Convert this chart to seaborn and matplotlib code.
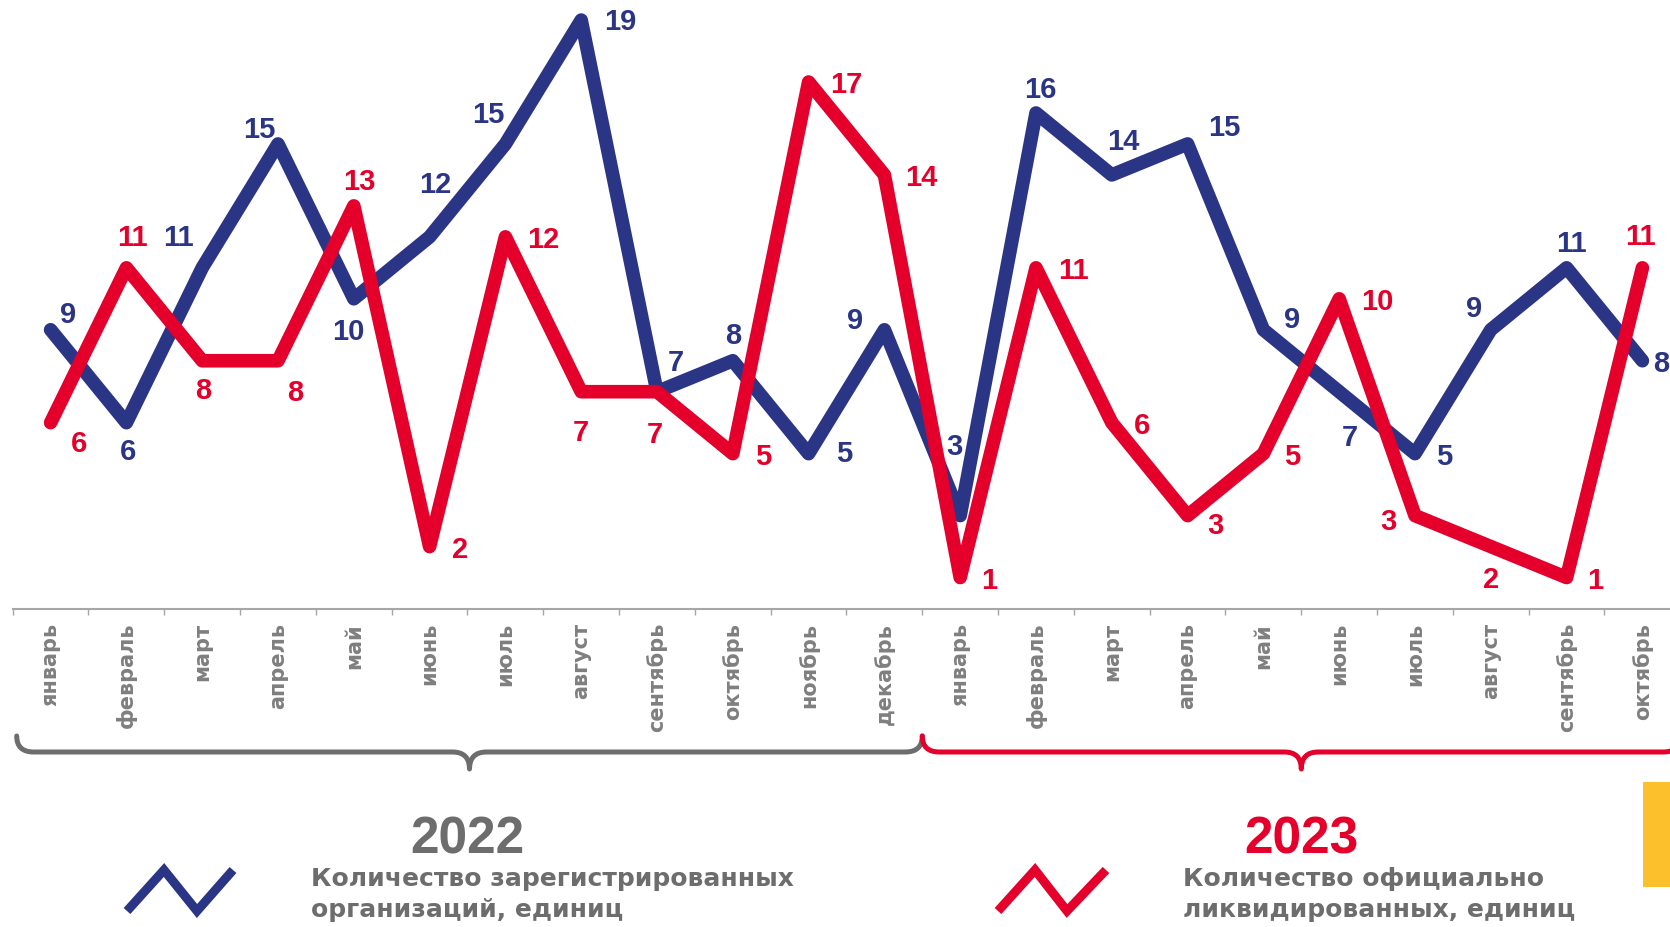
import numpy as np
import pandas as pd
import matplotlib
matplotlib.use("Agg")
import matplotlib.pyplot as plt
from matplotlib.path import Path
from matplotlib.patches import PathPatch, Rectangle
from matplotlib.lines import Line2D
from matplotlib.transforms import blended_transform_factory
import seaborn as sns

# ---------------- data ----------------
months_2022 = ["январь", "февраль", "март", "апрель", "май", "июнь", "июль",
               "август", "сентябрь", "октябрь", "ноябрь", "декабрь"]
months_2023 = ["январь", "февраль", "март", "апрель", "май", "июнь", "июль",
               "август", "сентябрь", "октябрь"]
categories = months_2022 + months_2023
registered = [9, 6, 11, 15, 10, 12, 15, 19, 7, 8, 5, 9,
              3, 16, 14, 15, 9, 7, 5, 9, 11, 8]
liquidated = [6, 11, 8, 8, 13, 2, 12, 7, 7, 5, 17, 14,
              1, 11, 6, 3, 5, 10, 3, 2, 1, 11]
years = ["2022", "2023"]
legend_reg = ["Количество зарегистрированных", "организаций, единиц"]
legend_liq = ["Количество официально", "ликвидированных, единиц"]

# label offsets in pixels (dx right, dy down) - placement only
reg_off = [(17, -18), (2, 26), (-24, -33), (-19, -17), (-5, 30), (6, -55),
           (-17, -32), (39, -1), (19, -32), (0, -28), (36, -3), (-29, -12),
           (-6, -72), (4, -26), (12, -36), (37, -19), (29, -13), (11, 43),
           (29, 0), (-17, -24), (5, -27), (19, 0)]
liq_off = [(28, 18), (6, -33), (1, 27), (17, 29), (6, -27), (30, 0),
           (38, 0), (0, 38), (-2, 40), (30, 0), (38, 0), (37, 0),
           (29, 0), (37, 0), (30, 0), (28, 7), (29, 0), (38, 0),
           (-27, 3), (0, 30), (29, 0), (-2, -34)]

# ---------------- style ----------------
BLUE = "#2B3586"
RED = "#E4002B"
GRAY = "#6D6D6D"
TICK_GRAY = "#7F7F7F"
AXIS_GRAY = "#A6A6A6"
YELLOW = "#FCC02D"

W, H = 1670, 928
sns.set_theme(style="white")
plt.rcParams["font.family"] = ["Liberation Sans", "DejaVu Sans"]

fig = plt.figure(figsize=(W / 100, H / 100), dpi=100)
fig.patch.set_facecolor("white")

n = len(categories)
left_px, step_px, zero_px, ppu = 12.7, 75.8, 609.5, 30.97
ax = fig.add_axes([left_px / W, (H - zero_px) / H, n * step_px / W, zero_px / H])
ax.set_facecolor("none")

df = pd.DataFrame({"idx": np.arange(n), "registered": registered,
                   "liquidated": liquidated})

sns.lineplot(data=df, x="idx", y="registered", ax=ax, color=BLUE, lw=9.8,
             solid_capstyle="round", solid_joinstyle="round", clip_on=False, zorder=3)
sns.lineplot(data=df, x="idx", y="liquidated", ax=ax, color=RED, lw=9.8,
             solid_capstyle="round", solid_joinstyle="round", clip_on=False, zorder=4)

ax.set_xlim(-0.5, n - 0.5)
ax.set_ylim(0, zero_px / ppu)
ax.set_xlabel("")
ax.set_ylabel("")
ax.set_yticks([])
for s in ["left", "right", "top"]:
    ax.spines[s].set_visible(False)
ax.spines["bottom"].set_color(AXIS_GRAY)
ax.spines["bottom"].set_linewidth(1.5)

ax.set_xticks(np.arange(n))
ax.set_xticklabels(categories, rotation=90, fontsize=15, fontweight="bold",
                   color=TICK_GRAY, family=["DejaVu Sans"])
ax.set_xticks(np.arange(-0.5, n), minor=True)
ax.tick_params(axis="x", which="major", length=0, pad=9.7)
ax.tick_params(axis="x", which="minor", length=4.3, width=1.0,
               color=AXIS_GRAY, direction="out", bottom=True)

# value labels
digit_h = 20.7
for i, (v, (dx, dy)) in enumerate(zip(registered, reg_off)):
    ax.annotate(str(v), (i, v), xytext=(dx, -(dy + digit_h / 2)),
                textcoords="offset pixels", ha="center", va="baseline",
                color=BLUE, fontsize=21, fontweight="bold",
                family=["Liberation Sans"], zorder=6, annotation_clip=False)
for i, (v, (dx, dy)) in enumerate(zip(liquidated, liq_off)):
    ax.annotate(str(v), (i, v), xytext=(dx, -(dy + digit_h / 2)),
                textcoords="offset pixels", ha="center", va="baseline",
                color=RED, fontsize=21, fontweight="bold",
                family=["Liberation Sans"], zorder=6, annotation_clip=False)


# ---------------- braces ----------------
def fx(px):
    return px / W


def fy(py_top):
    return 1 - py_top / H


def data_px(x):
    return ax.transData.transform((x, 0))[0]


def brace(x0, x1, color, ytop=737, ymid=753, ytip=770, r=17):
    xc = (x0 + x1) / 2
    pts = [(x0, ytop), (x0, ymid), (x0 + r, ymid),
           (xc - r, ymid), (xc, ymid), (xc, ytip),
           (xc, ymid), (xc + r, ymid),
           (x1 - r, ymid), (x1, ymid), (x1, ytop)]
    codes = [Path.MOVETO, Path.CURVE3, Path.CURVE3,
             Path.LINETO, Path.CURVE3, Path.CURVE3,
             Path.CURVE3, Path.CURVE3,
             Path.LINETO, Path.CURVE3, Path.CURVE3]
    verts = [(fx(a), fy(b)) for a, b in pts]
    p = PathPatch(Path(verts, codes), transform=fig.transFigure, fill=False,
                  edgecolor=color, lw=3.6, capstyle="round", joinstyle="round")
    fig.add_artist(p)


b0 = data_px(-0.5) + 4
b1 = data_px(11.5)
b2 = data_px(n - 0.5)
brace(b0, b1, GRAY)
brace(b1, b2, RED)

# years
btr = blended_transform_factory(ax.transData, fig.transFigure)
fig.text(5.5, fy(853), years[0], transform=btr, ha="center", va="baseline",
         fontsize=37, fontweight="bold", color=GRAY, family=["Liberation Sans"])
fig.text(16.5, fy(853), years[1], transform=btr, ha="center", va="baseline",
         fontsize=37, fontweight="bold", color=RED, family=["Liberation Sans"])

# legend
for k, line in enumerate(legend_reg):
    fig.text(fx(311), fy(886 + 31 * k), line, ha="left", va="baseline",
             fontsize=18, fontweight="bold", color=GRAY, family=["DejaVu Sans"])
for k, line in enumerate(legend_liq):
    fig.text(fx(1183), fy(886 + 31 * k), line, ha="left", va="baseline",
             fontsize=18, fontweight="bold", color=GRAY, family=["DejaVu Sans"])

icon_blue = [(127, 912), (164, 871), (197, 912), (233, 871)]
icon_red = [(998, 912), (1035, 871), (1067, 912), (1106, 871)]
for pts, col in [(icon_blue, BLUE), (icon_red, RED)]:
    fig.add_artist(Line2D([fx(a) for a, b in pts], [fy(b) for a, b in pts],
                          transform=fig.transFigure, color=col, lw=6.5,
                          solid_capstyle="butt", solid_joinstyle="miter"))

# yellow corner block
fig.add_artist(Rectangle((fx(1643), fy(888)), fx(40), (888 - 783) / H,
                         transform=fig.transFigure, facecolor=YELLOW,
                         edgecolor="none"))

fig.savefig("out.png", dpi=100)
